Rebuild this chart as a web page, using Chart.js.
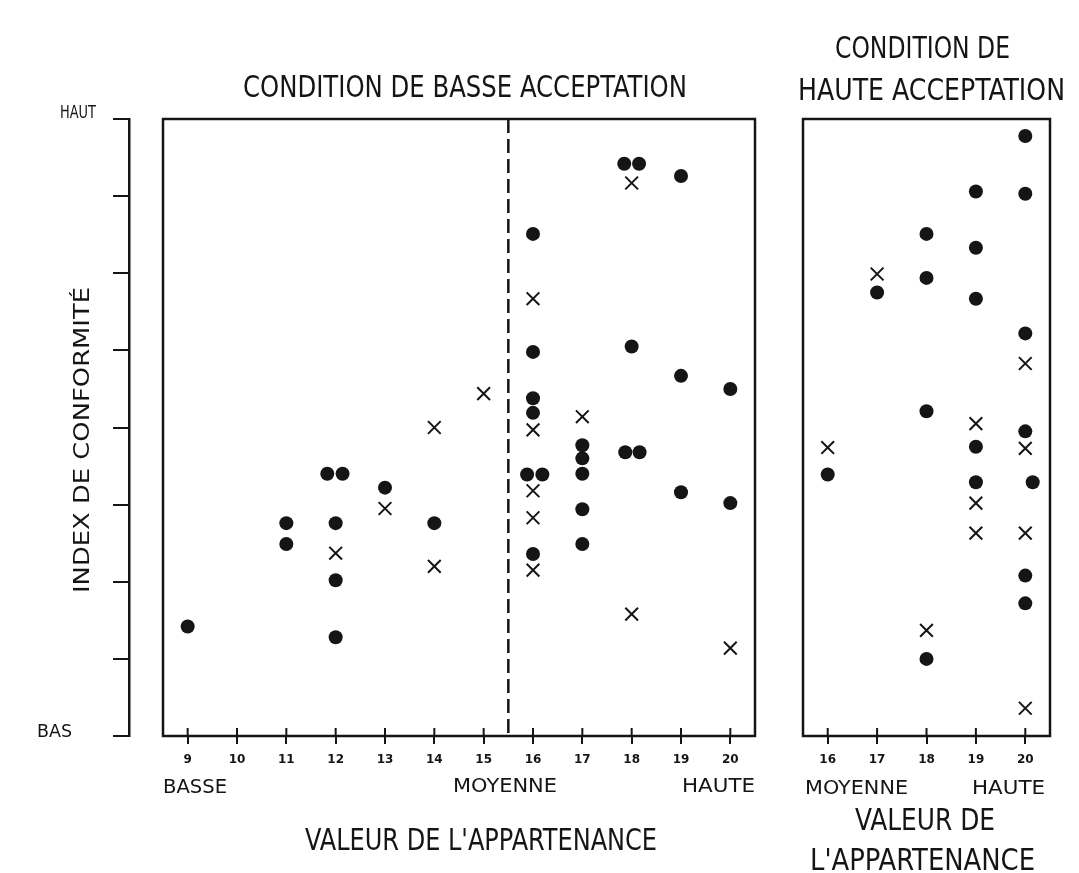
<!DOCTYPE html>
<html><head><meta charset="utf-8">
<script src="https://cdn.jsdelivr.net/npm/chart.js@4.4.1/dist/chart.umd.min.js"></script>
<style>
html,body{margin:0;padding:0;background:#fff;}
#wrap{position:relative;width:1079px;height:873px;overflow:hidden;}
canvas{position:absolute;left:0;top:0;}
</style></head><body>
<div id="wrap">
<canvas id="c1" width="1079" height="873"></canvas>
<canvas id="c2" width="1079" height="873"></canvas>
</div>
<script>
// ---------- DATA ----------
// Low acceptance condition (left panel)
const lowDotsX  = [9, 11, 11, 11.83, 12.14, 12, 12, 12, 13, 14,
                   16, 16, 16, 16, 15.88, 16.19, 16,
                   17, 17, 17, 17, 17,
                   17.85, 18.15, 18, 17.87, 18.16,
                   19, 19, 19, 20, 20];
const lowDotsY  = [1.42, 2.76, 2.49, 3.40, 3.40, 2.76, 2.02, 1.28, 3.22, 2.76,
                   6.51, 4.98, 4.38, 4.19, 3.39, 3.39, 2.36,
                   3.77, 3.60, 3.40, 2.94, 2.49,
                   7.42, 7.42, 5.05, 3.68, 3.68,
                   7.26, 4.67, 3.16, 4.50, 3.02];
const lowCrossX = [12, 13, 14, 14, 15, 16, 16, 16, 16, 16, 17, 18, 18, 20];
const lowCrossY = [2.37, 2.95, 4.00, 2.20, 4.44, 5.67, 3.97, 3.18, 2.83, 2.15, 4.14, 7.17, 1.58, 1.14];
// High acceptance condition (right panel)
const highDotsX  = [16, 17, 18, 18, 18, 18, 19, 19, 19, 19, 19, 20, 20, 20, 20, 20.15, 20, 20];
const highDotsY  = [3.39, 5.75, 6.51, 5.94, 4.21, 1.00, 7.06, 6.33, 5.67, 3.75, 3.29, 7.78, 7.03, 5.22, 3.95, 3.29, 2.08, 1.72];
const highCrossX = [16, 17, 18, 19, 19, 19, 20, 20, 20, 20];
const highCrossY = [3.74, 5.99, 1.37, 4.05, 3.02, 2.63, 4.83, 3.73, 2.63, 0.36];

// Tick labels
const lowTicks  = [9, 10, 11, 12, 13, 14, 15, 16, 17, 18, 19, 20];
const highTicks = [16, 17, 18, 19, 20];
const yTicks    = [0, 1, 2, 3, 4, 5, 6, 7, 8];
const yEndLabels = ['BAS', 'HAUT'];
const dividerValue = 15.5;

// Texts
const titleLow  = 'CONDITION DE BASSE ACCEPTATION';
const titleHigh = ['CONDITION DE', 'HAUTE ACCEPTATION'];
const levelWords = ['BASSE', 'MOYENNE', 'HAUTE'];
const xTitleLow  = "VALEUR DE L'APPARTENANCE";
const xTitleHigh = ['VALEUR DE', "L'APPARTENANCE"];
const yTitle = 'INDEX DE CONFORMITÉ';

// ---------- STYLE / LAYOUT ----------
const INK = '#151515';
const FONT = "'Liberation Sans Narrow','DejaVu Sans Condensed','Roboto Condensed','Liberation Sans',sans-serif";
const WIDE = "'DejaVu Sans','Liberation Sans',sans-serif";
const XH = 40;

const textLayout = [
  {t: titleLow,      x: 243, w: 444, base: 97,  size: 30, f: FONT},
  {t: titleHigh[0],  x: 835, w: 175, base: 58,  size: 31, f: FONT},
  {t: titleHigh[1],  x: 798, w: 267, base: 100, size: 30, f: FONT},
  {t: levelWords[0], x: 163, w: 64,  base: 793, size: 20, f: WIDE},
  {t: levelWords[1], x: 453, w: 104, base: 792, size: 20, f: WIDE},
  {t: levelWords[2], x: 682, w: 73,  base: 792, size: 20, f: WIDE},
  {t: levelWords[1], x: 805, w: 103, base: 794, size: 20, f: WIDE},
  {t: levelWords[2], x: 972, w: 73,  base: 794, size: 20, f: WIDE},
  {t: xTitleLow,     x: 305, w: 352, base: 850, size: 30, f: FONT},
  {t: xTitleHigh[0], x: 855, w: 140, base: 830, size: 30, f: FONT},
  {t: xTitleHigh[1], x: 810, w: 225, base: 870, size: 30, f: FONT},
  {t: yEndLabels[1], x: 60,  w: 36,  base: 118, size: 17, f: WIDE},
  {t: yEndLabels[0], x: 37,  w: 35,  base: 737, size: 17, f: WIDE},
  {t: yTitle,        x: 89,  w: 306, base: 593, size: 22, f: FONT, rot: true}
];

function makeDatasets(dx, dy, cx, cy) {
  return [
    {data: dx.map((x, i) => ({x, y: dy[i]})), pointStyle: 'circle', pointRadius: 7,
     backgroundColor: INK, borderColor: INK, borderWidth: 0, clip: false},
    {data: cx.map((x, i) => ({x, y: cy[i]})), pointStyle: 'crossRot', pointRadius: 9,
     backgroundColor: INK, borderColor: INK, borderWidth: 2, clip: false}
  ];
}

const framePlugin = {
  id: 'frame',
  beforeDatasetsDraw(chart, args, opts) {
    const {ctx, chartArea: a} = chart;
    const x = chart.scales.x;
    ctx.save();
    ctx.strokeStyle = INK;
    ctx.lineWidth = 2.5;
    ctx.strokeRect(a.left, a.top, a.right - a.left, a.bottom - a.top);
    ctx.lineWidth = 2;
    x.ticks.forEach(t => {
      const px = x.getPixelForValue(t.value);
      ctx.beginPath(); ctx.moveTo(px, a.bottom); ctx.lineTo(px, a.bottom - 8); ctx.stroke();
    });
    if (opts.divider != null) {
      const px = x.getPixelForValue(opts.divider);
      ctx.setLineDash([14, 6]);
      ctx.lineWidth = 2.5;
      ctx.beginPath(); ctx.moveTo(px, a.top); ctx.lineTo(px, a.bottom); ctx.stroke();
    }
    ctx.restore();
  }
};

const textPlugin = {
  id: 'texts',
  afterDraw(chart) {
    const ctx = chart.ctx;
    ctx.save();
    ctx.fillStyle = INK;
    ctx.textAlign = 'left';
    ctx.textBaseline = 'alphabetic';
    textLayout.forEach(d => {
      ctx.font = d.size + 'px ' + d.f;
      const mw = ctx.measureText(d.t).width;
      const sx = d.w / mw;
      ctx.save();
      ctx.translate(d.x, d.base);
      if (d.rot) ctx.rotate(-Math.PI / 2);
      ctx.scale(sx, 1);
      ctx.fillText(d.t, 0, 0);
      ctx.restore();
    });
    ctx.restore();
  }
};

function xScale(min, max, ticks) {
  return {
    type: 'linear', min, max,
    afterBuildTicks: s => { s.ticks = ticks.map(v => ({value: v})); },
    afterFit: s => { s.height = XH; },
    grid: {drawOnChartArea: false, drawTicks: true, tickLength: 8, lineWidth: 2, color: INK},
    border: {display: false},
    ticks: {padding: 9, color: INK, autoSkip: false, maxRotation: 0,
            font: {family: WIDE, size: 12, weight: 'bold'}}
  };
}

Chart.defaults.animation = false;

new Chart(document.getElementById('c1'), {
  type: 'scatter',
  data: {datasets: makeDatasets(lowDotsX, lowDotsY, lowCrossX, lowCrossY)},
  plugins: [framePlugin, textPlugin],
  options: {
    responsive: false, animation: false, events: [],
    layout: {padding: {left: 0, right: 1079 - 755, top: 119, bottom: 873 - 736 - XH}},
    plugins: {legend: {display: false}, tooltip: {enabled: false}, frame: {divider: dividerValue}},
    scales: {
      x: xScale(8.5, 20.5, lowTicks),
      y: {type: 'linear', position: 'left', min: 0, max: 8, weight: 1,
          afterBuildTicks: s => { s.ticks = yTicks.map(v => ({value: v})); },
          afterFit: s => { s.width = 129; },
          grid: {drawOnChartArea: false, drawTicks: true, tickLength: 16, lineWidth: 2, color: INK},
          border: {display: true, width: 2.5, color: INK},
          ticks: {display: false}},
      yGap: {type: 'linear', position: 'left', min: 0, max: 8, weight: 0,
             afterFit: s => { s.width = 34; },
             grid: {display: false}, border: {display: false}, ticks: {display: false}}
    }
  }
});

new Chart(document.getElementById('c2'), {
  type: 'scatter',
  data: {datasets: makeDatasets(highDotsX, highDotsY, highCrossX, highCrossY)},
  plugins: [framePlugin],
  options: {
    responsive: false, animation: false, events: [],
    layout: {padding: {left: 803, right: 1079 - 1050, top: 119, bottom: 873 - 736 - XH}},
    plugins: {legend: {display: false}, tooltip: {enabled: false}, frame: {divider: null}},
    scales: {
      x: xScale(15.5, 20.5, highTicks),
      y: {type: 'linear', display: false, min: 0, max: 8}
    }
  }
});
</script>
</body></html>
